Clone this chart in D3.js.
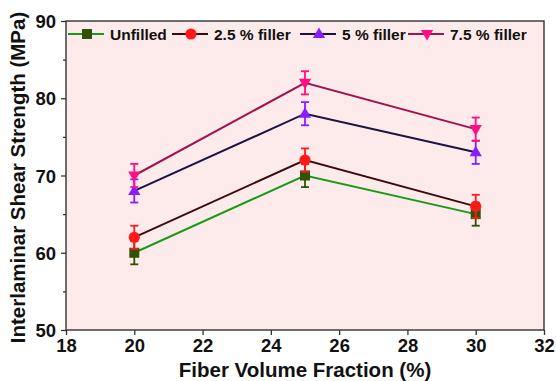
<!DOCTYPE html>
<html>
<head>
<meta charset="utf-8">
<script src="https://cdn.jsdelivr.net/npm/d3@7"></script>
<style>
  body { margin: 0; background: #fff; }
  svg { display: block; font-family: Arial, "Liberation Sans", sans-serif; font-weight: bold; }
</style>
</head>
<body>
<svg id="chart" width="556" height="381"></svg>
<script>
// fiber volume fraction (%)
const fractions = [20, 25, 30];
const seriesNames = ["Unfilled", "2.5 % filler", "5 % filler", "7.5 % filler"];
const unfilled = [60, 70, 65];
const filler25 = [62, 72, 66];
const filler5 = [68, 78, 73];
const filler75 = [70, 82, 76];
const errUnfilled = [1.5, 1.5, 1.5];
const err25 = [1.5, 1.5, 1.5];
const err5 = [1.5, 1.5, 1.5];
const err75 = [1.5, 1.5, 1.5];
const xTicks = [18, 20, 22, 24, 26, 28, 30, 32];
const yTicks = [50, 60, 70, 80, 90];
const yMinor = [55, 65, 75, 85];

const series = [
  { name: seriesNames[0], values: unfilled, err: errUnfilled, line: "#1a9a1a", marker: "#2f5208", shape: "square" },
  { name: seriesNames[1], values: filler25, err: err25, line: "#3c0a0c", marker: "#ff1a1a", shape: "circle" },
  { name: seriesNames[2], values: filler5, err: err5, line: "#1c1244", marker: "#8c1cff", shape: "up" },
  { name: seriesNames[3], values: filler75, err: err75, line: "#a3114e", marker: "#ff0f82", shape: "down" }
];

const margin = { top: 21, right: 12, bottom: 51, left: 66 };
const width = 556 - margin.left - margin.right;
const height = 381 - margin.top - margin.bottom;

const svg = d3.select("#chart");
const g = svg.append("g").attr("transform", `translate(${margin.left},${margin.top})`);

const x = d3.scaleLinear().domain([18, 32]).range([0, width]);
const y = d3.scaleLinear().domain([50, 90]).range([height, 0]);

g.append("rect").attr("width", width).attr("height", height).attr("fill", "#fcebea");

// axes
const xAxis = g.append("g").attr("transform", `translate(0,${height})`)
  .call(d3.axisBottom(x).tickValues(xTicks).tickSize(5).tickPadding(4));
const yAxis = g.append("g")
  .call(d3.axisLeft(y).tickValues(yTicks).tickSize(5).tickPadding(5));
g.append("g").call(d3.axisLeft(y).tickValues(yMinor).tickSize(3).tickFormat(""));
g.selectAll(".domain").remove();
g.selectAll(".tick line").attr("stroke", "#333").attr("stroke-width", 1.3);
xAxis.selectAll("text").attr("font-size", 18.5).attr("font-weight", "bold").attr("fill", "#111");
yAxis.selectAll("text").attr("font-size", 18.5).attr("font-weight", "bold").attr("fill", "#111").attr("dy", "0.36em");

g.append("rect").attr("width", width).attr("height", height)
  .attr("fill", "none").attr("stroke", "#333").attr("stroke-width", 1.4);

// axis titles
svg.append("text")
  .attr("x", margin.left + width / 2).attr("y", 377)
  .attr("text-anchor", "middle").attr("font-size", 20.5).attr("fill", "#111")
  .text("Fiber Volume Fraction (%)");
svg.append("text")
  .attr("transform", `translate(25,${margin.top + height / 2 + 2}) rotate(-90)`)
  .attr("text-anchor", "middle").attr("font-size", 20.5).attr("fill", "#111")
  .text("Interlaminar Shear Strength (MPa)");

function drawMarker(sel, shape, color, cx, cy) {
  if (shape === "square") {
    sel.append("rect").attr("x", cx - 5).attr("y", cy - 5).attr("width", 10).attr("height", 10).attr("fill", color);
  } else if (shape === "circle") {
    sel.append("circle").attr("cx", cx).attr("cy", cy).attr("r", 5.6).attr("fill", color);
  } else {
    const sym = d3.symbol().type(d3.symbolTriangle).size(65);
    sel.append("path").attr("d", sym())
      .attr("transform", `translate(${cx},${cy + (shape === "up" ? 0.5 : -0.5)}) rotate(${shape === "up" ? 0 : 180})`)
      .attr("fill", color);
  }
}

const line = d3.line().x((d, i) => x(fractions[i])).y(d => y(d));

series.forEach(s => {
  const sg = g.append("g");
  sg.append("path").datum(s.values).attr("d", line)
    .attr("fill", "none").attr("stroke", s.line).attr("stroke-width", 2);
  s.values.forEach((v, i) => {
    const cx = x(fractions[i]);
    const top = y(v + s.err[i]), bot = y(v - s.err[i]);
    const eg = sg.append("g").attr("stroke", s.marker).attr("stroke-width", 1.8);
    eg.append("line").attr("x1", cx).attr("x2", cx).attr("y1", top).attr("y2", bot);
    eg.append("line").attr("x1", cx - 4).attr("x2", cx + 4).attr("y1", top).attr("y2", top);
    eg.append("line").attr("x1", cx - 4).attr("x2", cx + 4).attr("y1", bot).attr("y2", bot);
    drawMarker(sg, s.shape, s.marker, cx, y(v));
  });
});

// legend
const legendX = [2, 106, 234, 342];
const legend = g.append("g").attr("transform", "translate(0,13)");
series.forEach((s, i) => {
  const lg = legend.append("g").attr("transform", `translate(${legendX[i]},0)`);
  lg.append("line").attr("x1", 0).attr("x2", 36).attr("y1", 0).attr("y2", 0)
    .attr("stroke", s.line).attr("stroke-width", 2);
  drawMarker(lg, s.shape, s.marker, 19, 0);
  lg.append("text").attr("x", 42).attr("y", 5.5).attr("font-size", 15.5).attr("fill", "#111").text(s.name);
});
</script>
</body>
</html>
